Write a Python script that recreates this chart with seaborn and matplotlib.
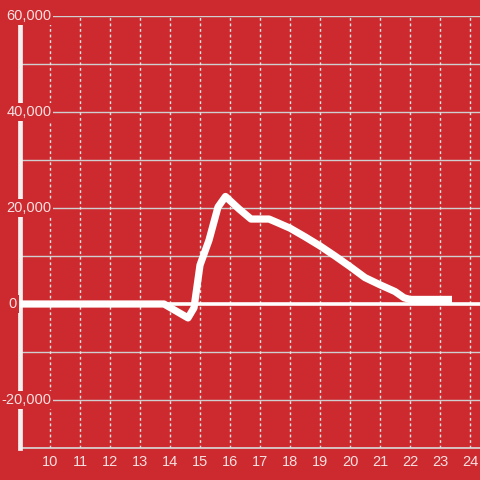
import matplotlib
matplotlib.use("Agg")
import matplotlib.pyplot as plt
import seaborn as sns
import pandas as pd
import numpy as np

# ---- data ----
hours = [9.0, 13.8, 14.6, 14.8, 15.0, 15.3, 15.6, 15.85, 16.3, 16.7, 17.3,
         17.6, 18.0, 18.5, 19.0, 19.5, 20.0, 20.5, 21.0, 21.5, 21.8, 22.0, 23.4]
values = [0, 0, -2900, -800, 8100, 13300, 20200, 22400, 19800, 17700, 17700,
          16900, 15800, 14000, 12100, 10000, 7800, 5500, 4000, 2600, 1300, 950, 950]
x_ticks = list(range(10, 25))
y_ticks = [-20000, 0, 20000, 40000, 60000]
y_tick_labels = ["-20,000", "0", "20,000", "40,000", "60,000"]
y_grid = list(range(-30000, 60001, 10000))

BG = "#cd2a2f"
TXT = "#f6e0e0"

sns.set_theme(style="white")
plt.rcParams["font.family"] = ["Liberation Sans", "DejaVu Sans"]

df = pd.DataFrame({"hour": hours, "value": values})

fig = plt.figure(figsize=(4.8, 4.8), dpi=100, facecolor=BG)
ax = fig.add_axes([20 / 480, 32 / 480, 460 / 480, 432 / 480])
ax.set_facecolor(BG)

ax.set_xlim(9.0, 24.333)
ax.set_ylim(-30000, 60000)

# grid lines
for g in y_grid:
    if g == 0:
        continue
    ax.axhline(g, color="#cfcfcf", lw=1.0, zorder=1)
for t in x_ticks:
    ax.axvline(t, color="#e6e6e6", lw=1.0, ls=(0, (2, 2)), zorder=1)
ax.axhline(0, color="white", lw=2.6, zorder=2)

sns.lineplot(data=df, x="hour", y="value", ax=ax, color="white", lw=5.2,
             zorder=4, solid_joinstyle="round", solid_capstyle="butt")

# spines
for s in ["top", "right"]:
    ax.spines[s].set_visible(False)
ax.spines["left"].set_color("#f4f0f0")
ax.spines["left"].set_linewidth(3.4)
ax.spines["left"].set_zorder(3)
ax.spines["bottom"].set_color("#d8d8d8")
ax.spines["bottom"].set_linewidth(1.2)

ax.set_xlabel("")
ax.set_ylabel("")
ax.set_xticks(x_ticks)
ax.set_xticklabels([str(t) for t in x_ticks])
ax.tick_params(axis="x", length=0, pad=5, labelsize=10.5, labelcolor=TXT)
ax.set_yticks([])

ytr = ax.get_yaxis_transform()
for v, lab in zip(y_ticks, y_tick_labels):
    xpos = (31.5 / 460) if len(lab) > 1 else (-3 / 460)
    ax.text(xpos, v, lab, transform=ytr, ha="right", va="center",
            fontsize=10.5, color=TXT, zorder=6, clip_on=False,
            bbox=dict(facecolor=BG, edgecolor="none", pad=1.2))

fig.savefig("out.png", dpi=100, facecolor=BG)
